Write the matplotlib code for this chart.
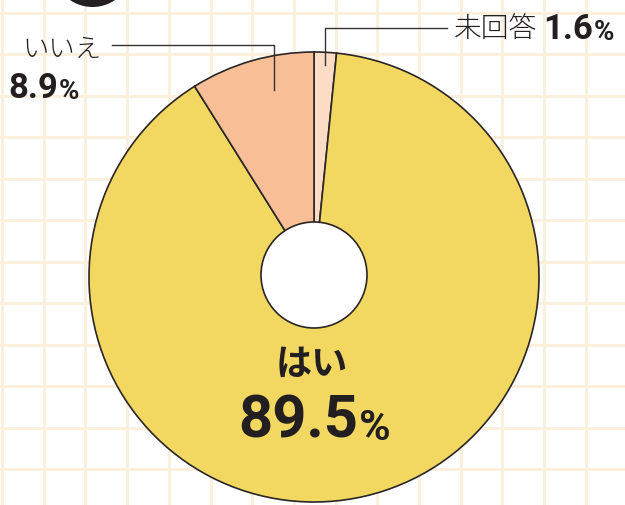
import matplotlib
matplotlib.use("Agg")
import matplotlib.pyplot as plt
from matplotlib.patches import Circle

# Data
labels = ["未回答", "はい", "いいえ"]
values = [1.6, 89.5, 8.9]
colors = ["#FDDCC6", "#F2D860", "#F8BE96"]

# Canvas in pixel units (y measured from top, flipped below)
W, H = 625, 505
def py(y):
    return H - y

fig = plt.figure(figsize=(W / 100, H / 100), dpi=100)
ax = fig.add_axes([0, 0, 1, 1])

edge = "#2A2526"
jp = ["Noto Sans CJK JP", "DejaVu Sans"]
num = ["Roboto", "DejaVu Sans"]

# Pie
ax.pie(values, colors=colors, startangle=90, counterclock=False,
       center=(314, py(277)), radius=225,
       wedgeprops=dict(edgecolor=edge, linewidth=1.2))
ax.add_patch(Circle((314, py(275)), 53, facecolor="white",
                    edgecolor=edge, linewidth=1.2, zorder=5))

# Background grid paper
for i in range(16):
    ax.axvline(2 + 41.7 * i, color="#FBF0DE", lw=2.2, zorder=-5)
for i in range(13):
    ax.axhline(py(12.5 + 41.5 * i), color="#FBF0DE", lw=2.2, zorder=-5)
ax.set_facecolor("white")

# Badge at top
ax.add_patch(Circle((92.5, py(-33)), 40, facecolor="#231F20", edgecolor="none", zorder=3))

ax.set_xlim(0, W)
ax.set_ylim(0, H)
ax.set_aspect("equal")
ax.axis("off")
fig.patch.set_facecolor("white")

# Leader lines
ax.plot([112, 274, 274], [py(45), py(45), py(90)], color="#333333", lw=1, zorder=6)
ax.plot([447, 325, 325], [py(28), py(28), py(65)], color="#333333", lw=1, zorder=6)


def pct(x, y, value, size, psize, ha="left"):
    t = ax.text(x, y, value, fontsize=size, fontweight="bold", family=num,
                color="#231F20", ha=ha, va="baseline", zorder=7)
    ax.annotate("%", xy=(1, 0), xycoords=t, xytext=(0.5, 0), textcoords="offset points",
                fontsize=psize, fontweight="bold", family=num, color="#231F20",
                ha="left", va="bottom", zorder=7)
    return t


# いいえ
ax.text(22, py(57), labels[2], fontsize=19, family=jp, fontweight="light",
        color="#231F20", ha="left", va="baseline")
pct(8, py(98), "8.9", 25, 20)

# 未回答
ax.text(454, py(37), labels[0], fontsize=20, family=jp, fontweight="light",
        color="#231F20", ha="left", va="baseline")
pct(543, py(39), "1.6", 25, 20)

# はい
ax.text(312, py(364), labels[1], fontsize=26, family=jp, fontweight="bold",
        color="#231F20", ha="center", va="center", zorder=7)
pct(238, py(437), "89.5", 43, 31)

fig.savefig("out.png", dpi=100)
